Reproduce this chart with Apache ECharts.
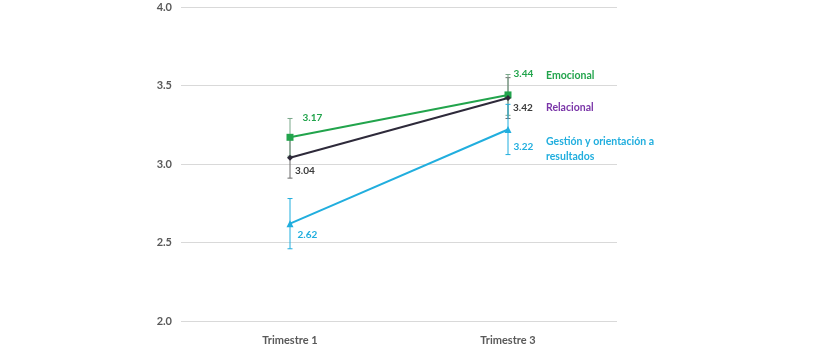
<!DOCTYPE html>
<html>
<head>
<meta charset="utf-8">
<script src="https://cdn.jsdelivr.net/npm/echarts@6/dist/echarts.min.js"></script>
<style>
  html, body { margin: 0; padding: 0; background: #fff; }
  #chart { width: 825px; height: 350px; }
</style>
</head>
<body>
<div id="chart"></div>
<script>
// Quarters on the x axis
const categories = ['Trimestre 1', 'Trimestre 3'];
// Y axis ticks
const yTicks = [2.0, 2.5, 3.0, 3.5, 4.0];

// Mean scores per dimension
const emocional = [3.17, 3.44];
const relacional = [3.04, 3.42];
const gestion = [2.62, 3.22];

// Half-width of the error bars per dimension
const emocionalErr = [0.12, 0.13];
const relacionalErr = [0.13, 0.13];
const gestionErr = [0.16, 0.16];

const seriesNames = ['Emocional', 'Relacional', 'Gestión y orientación a\nresultados'];

const GREEN = '#22a44c';
const DARK = '#2e2a3a';
const PURPLE = '#7a35a8';
const BLUE = '#21aede';
const FONT = 'Lato, "Open Sans", sans-serif';

const chart = echarts.init(document.getElementById('chart'), null, { renderer: 'canvas' });

function errorSeries(values, errs, color) {
  const data = values.map((v, i) => [i, v - errs[i], v + errs[i]]);
  return {
    type: 'custom',
    silent: true,
    z: 1,
    renderItem: function (params, api) {
      const x = api.coord([api.value(0), api.value(1)])[0];
      const lo = api.coord([api.value(0), api.value(1)])[1];
      const hi = api.coord([api.value(0), api.value(2)])[1];
      const cap = 2.5;
      const style = { stroke: color, lineWidth: 1 };
      return {
        type: 'group',
        children: [
          { type: 'line', shape: { x1: x, y1: lo, x2: x, y2: hi }, style: style },
          { type: 'line', shape: { x1: x - cap, y1: lo, x2: x + cap, y2: lo }, style: style },
          { type: 'line', shape: { x1: x - cap, y1: hi, x2: x + cap, y2: hi }, style: style }
        ]
      };
    },
    encode: { x: 0, y: [1, 2] },
    data: data
  };
}

function labelData(values, offsets, color) {
  return values.map((v, i) => ({
    value: v,
    label: {
      show: true,
      position: 'right',
      distance: 5,
      offset: offsets[i],
      color: color,
      fontFamily: FONT,
      fontWeight: 'bold',
      fontSize: 10,
      formatter: v.toFixed(2)
    }
  }));
}

const option = {
  animation: false,
  grid: { left: 181, right: 208, top: 7, bottom: 29 },
  xAxis: {
    type: 'category',
    data: categories,
    boundaryGap: true,
    axisLine: { show: false },
    axisTick: { show: false },
    axisLabel: {
      color: '#595959',
      fontFamily: FONT,
      fontWeight: 'bold',
      fontSize: 11,
      margin: 14
    }
  },
  yAxis: {
    type: 'value',
    min: yTicks[0],
    max: yTicks[yTicks.length - 1],
    interval: 0.5,
    axisLine: { show: false },
    axisTick: { show: false },
    splitLine: { lineStyle: { color: '#d9d9d9', width: 1 } },
    axisLabel: {
      color: '#595959',
      fontFamily: FONT,
      fontWeight: 'bold',
      fontSize: 11,
      margin: 9,
      formatter: v => v.toFixed(1)
    }
  },
  series: [
    errorSeries(relacional, relacionalErr, '#6b6b6b'),
    errorSeries(emocional, emocionalErr, '#7aa88a'),
    errorSeries(gestion, gestionErr, BLUE),
    {
      name: 'Emocional',
      type: 'line',
      z: 3,
      data: labelData(emocional, [[4, -20], [-3, -21]], GREEN),
      symbol: 'rect',
      symbolSize: 7,
      itemStyle: { color: GREEN },
      lineStyle: { color: GREEN, width: 2 }
    },
    {
      name: 'Relacional',
      type: 'line',
      z: 4,
      data: labelData(relacional, [[-3, 13], [-3, 10]], '#3b3b3b'),
      symbol: 'diamond',
      symbolSize: 6,
      itemStyle: { color: DARK },
      lineStyle: { color: DARK, width: 2 }
    },
    {
      name: 'Gestión',
      type: 'line',
      z: 3,
      data: labelData(gestion, [[-1, 11], [-3, 17]], BLUE),
      symbol: 'triangle',
      symbolSize: 7,
      itemStyle: { color: BLUE },
      lineStyle: { color: BLUE, width: 2 }
    }
  ]
};

chart.setOption(option);

// Series names placed beside the Trimestre 3 points
const nameColors = [GREEN, PURPLE, BLUE];
const nameValues = [3.567, 3.363, 3.146];
const nameX = chart.convertToPixel({ xAxisIndex: 0 }, categories[1]) + 38;
chart.setOption({
  graphic: seriesNames.map((name, i) => ({
    type: 'text',
    left: nameX,
    top: chart.convertToPixel({ yAxisIndex: 0 }, nameValues[i]) - 7,
    style: {
      text: name,
      fill: nameColors[i],
      font: 'bold 10.5px ' + FONT,
      lineHeight: 15
    }
  }))
});
</script>
</body>
</html>
